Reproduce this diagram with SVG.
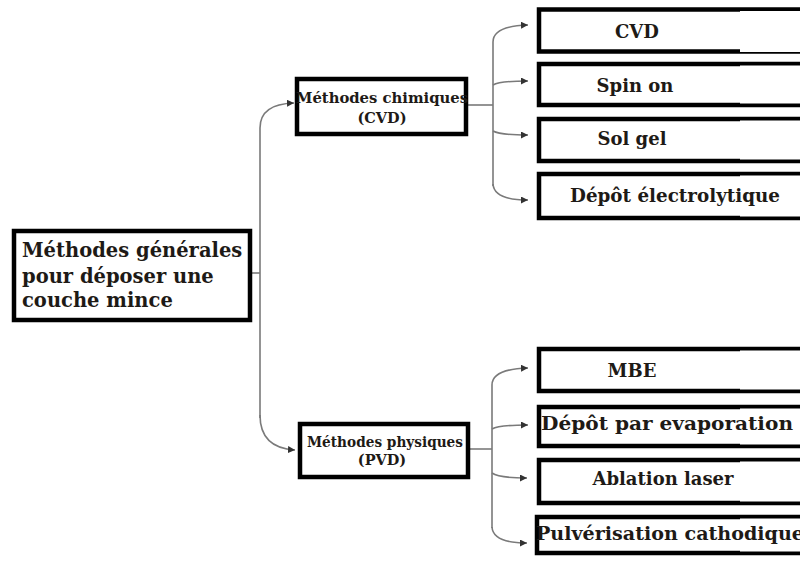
<svg xmlns="http://www.w3.org/2000/svg" width="800" height="561" viewBox="0 0 800 561">
<defs>
<style>
.box{fill:#fff;stroke:#000;stroke-width:4.5}
.cover{fill:#fff}
.t{font-family:"DejaVu Serif","Liberation Serif",serif;font-weight:bold;fill:#1e1a16}
.big{font-size:19.5px}
.mid{font-size:14.5px}
.rt{font-size:18px}
.c{fill:none;stroke:#7a7a7a;stroke-width:1.6}
</style>
<marker id="ah" viewBox="0 0 10 10" refX="10" refY="5" markerWidth="7" markerHeight="7" markerUnits="userSpaceOnUse" orient="auto">
<path d="M0,0 L10,5 L0,10 z" fill="#333"/>
</marker>
</defs>
<rect width="800" height="561" fill="#fff"/>

<g id="connectors">
<path class="c" d="M252,273 H260"/>
<path class="c" d="M260,418 V128 Q260,104 294,103" marker-end="url(#ah)"/>
<path class="c" d="M260,415 Q260,448 295,450" marker-end="url(#ah)"/>
<path class="c" d="M468,105 H493"/>
<path class="c" d="M493,186 V42 Q493,26 528,25" marker-end="url(#ah)"/>
<path class="c" d="M493,85 Q500,81 528,81" marker-end="url(#ah)"/>
<path class="c" d="M493,131 Q500,135 528,135" marker-end="url(#ah)"/>
<path class="c" d="M493,184 Q494,200 528,200" marker-end="url(#ah)"/>
<path class="c" d="M470,449 H492"/>
<path class="c" d="M492,528 V385 Q492,369 528,368" marker-end="url(#ah)"/>
<path class="c" d="M492,429 Q499,425 528,425" marker-end="url(#ah)"/>
<path class="c" d="M492,473 Q499,478 527,478" marker-end="url(#ah)"/>
<path class="c" d="M492,527 Q493,543 527,543" marker-end="url(#ah)"/>
</g>

<g id="main">
<rect class="box" x="14" y="231" width="236" height="89"/>
<text class="t big" x="22" y="257">Méthodes générales</text>
<text class="t big" x="22" y="283">pour déposer une</text>
<text class="t big" x="22" y="307">couche mince</text>
</g>

<g id="chimiques">
<rect class="box" x="297" y="79" width="169" height="55"/>
<text class="t mid" x="296" y="103" textLength="172" lengthAdjust="spacingAndGlyphs">Méthodes chimiques</text>
<text class="t mid" x="382" y="123" text-anchor="middle">(CVD)</text>
</g>

<g id="physiques">
<rect class="box" x="300" y="424" width="168" height="53"/>
<text class="t mid" x="307" y="447" textLength="156" lengthAdjust="spacingAndGlyphs">Méthodes physiques</text>
<text class="t mid" x="382" y="465" text-anchor="middle">(PVD)</text>
</g>

<g id="cvd">
<rect class="box" x="539" y="9.5" width="280" height="42"/>
<rect class="cover" x="740" y="11" width="70" height="41"/>
<text class="t rt" x="637" y="38" text-anchor="middle">CVD</text>
</g>
<g id="spin">
<rect class="box" x="539" y="64" width="280" height="41"/>
<rect class="cover" x="740" y="65.5" width="70" height="38"/>
<text class="t rt" x="635" y="92" text-anchor="middle">Spin on</text>
</g>
<g id="solgel">
<rect class="box" x="539" y="119" width="280" height="42"/>
<rect class="cover" x="740" y="120.5" width="70" height="39"/>
<text class="t rt" x="632" y="145" text-anchor="middle">Sol gel</text>
</g>
<g id="electro">
<rect class="box" x="539" y="174" width="280" height="44"/>
<rect class="cover" x="740" y="175.5" width="70" height="41"/>
<text class="t rt" x="570" y="202" textLength="210" lengthAdjust="spacingAndGlyphs">Dépôt électrolytique</text>
</g>

<g id="mbe">
<rect class="box" x="539" y="349" width="280" height="42"/>
<rect class="cover" x="740" y="350.5" width="70" height="39"/>
<text class="t rt" x="632" y="377" text-anchor="middle">MBE</text>
</g>
<g id="evaporation">
<rect class="box" x="539" y="407" width="280" height="39"/>
<rect class="cover" x="740" y="408.5" width="70" height="36"/>
<text class="t rt" x="541" y="430" textLength="252" lengthAdjust="spacingAndGlyphs">Dépôt par evaporation</text>
</g>
<g id="ablation">
<rect class="box" x="539" y="460" width="280" height="43"/>
<rect class="cover" x="740" y="461.5" width="70" height="40"/>
<text class="t rt" x="663" y="485" text-anchor="middle">Ablation laser</text>
</g>
<g id="pulverisation">
<rect class="box" x="537" y="517" width="282" height="36"/>
<rect class="cover" x="740" y="518.5" width="70" height="33"/>
<text class="t rt" x="536" y="540" textLength="268" lengthAdjust="spacingAndGlyphs">Pulvérisation cathodique</text>
</g>
</svg>
